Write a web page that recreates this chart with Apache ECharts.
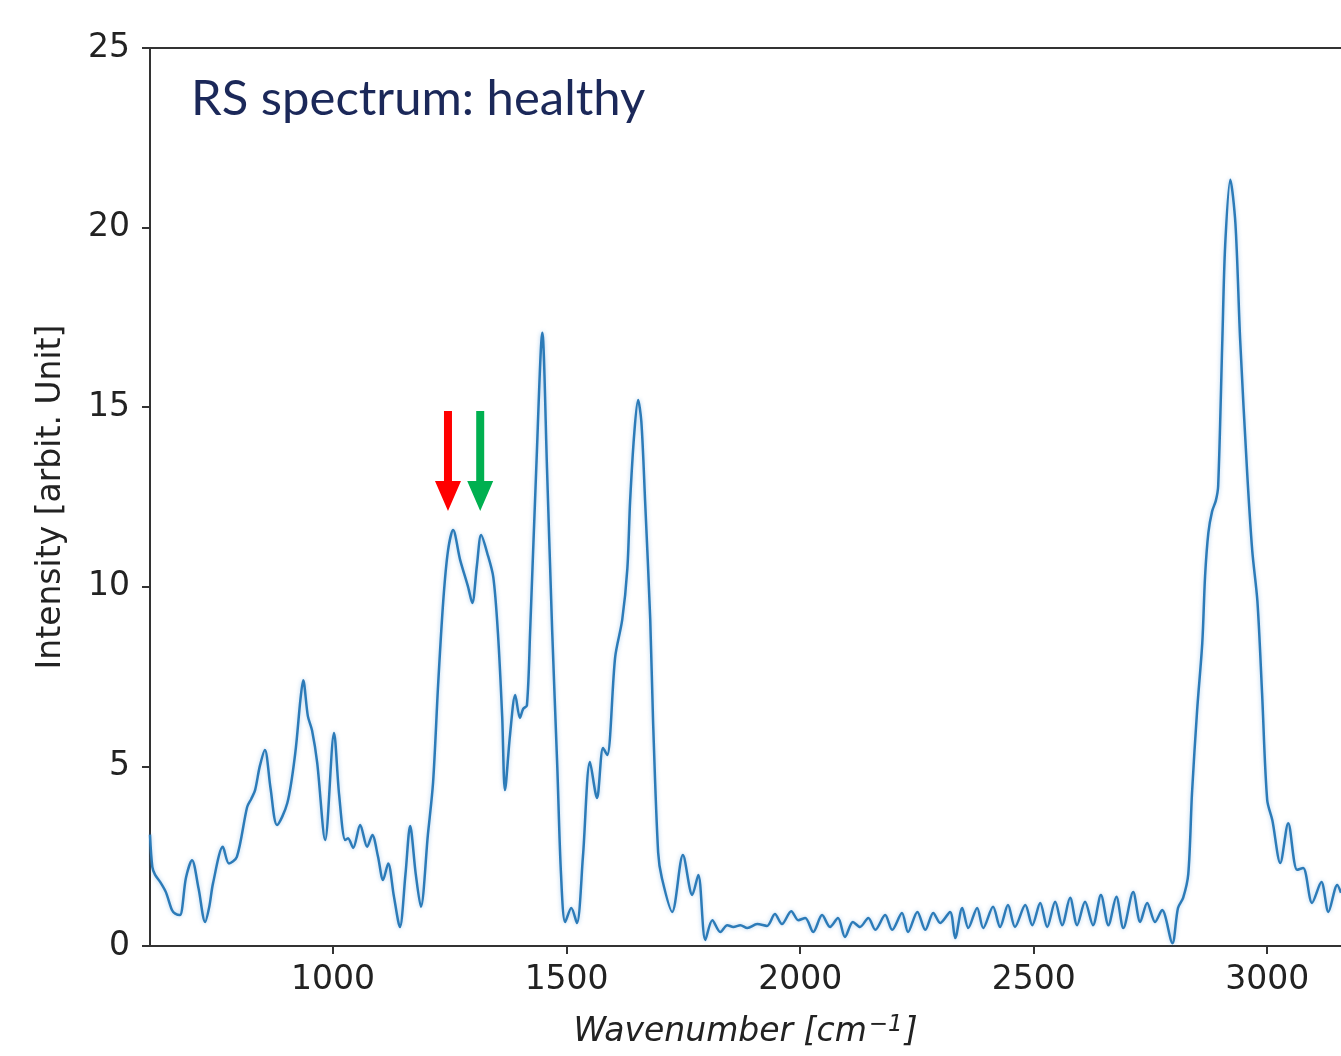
<!DOCTYPE html>
<html>
<head>
<meta charset="utf-8">
<title>RS spectrum: healthy</title>
<script src="https://cdn.jsdelivr.net/npm/echarts@6/dist/echarts.min.js"></script>
<style>
  html, body { margin: 0; padding: 0; background: #fff; }
  #chart { width: 1341px; height: 1056px; }
</style>
</head>
<body>
<div id="chart"></div>
<script>
// wavenumber [cm^-1] and mean intensity
const wavenumber = [
  608, 613, 619, 630, 642, 655, 662, 672, 685, 698, 712, 726, 735, 743, 764, 777, 794,
  816, 825, 833, 843, 854, 866, 880, 902, 919, 930, 936, 946, 955, 966, 983,
  1002, 1013, 1026, 1032, 1043, 1058, 1073, 1084, 1096, 1107, 1118, 1130, 1143, 1155, 1165, 1177, 1188,
  1203, 1214, 1225, 1236, 1246, 1257, 1272, 1289, 1298, 1308, 1317, 1330, 1343, 1353, 1362, 1368,
  1379, 1390, 1400, 1407, 1415, 1422, 1435, 1448, 1458, 1469, 1480, 1488, 1497, 1510, 1522, 1535,
  1550, 1565, 1578, 1587, 1604, 1619, 1630, 1636, 1645, 1653, 1660, 1668, 1679, 1685, 1696, 1704,
  1726, 1749, 1769, 1782, 1797, 1812, 1829, 1844, 1857, 1872, 1887, 1908, 1929, 1946, 1961, 1981,
  1996, 2011, 2028, 2047, 2064, 2081, 2096, 2113, 2128, 2146, 2161, 2182, 2197, 2218, 2231, 2251,
  2268, 2285, 2300, 2321, 2332, 2347, 2360, 2379, 2392, 2413, 2428, 2445, 2460, 2482, 2497, 2514,
  2529, 2546, 2561, 2578, 2593, 2610, 2627, 2644, 2660, 2677, 2692, 2713, 2728, 2743, 2760, 2775,
  2797, 2809, 2820, 2831, 2839, 2850, 2861, 2867, 2874, 2882, 2890, 2895, 2904, 2910, 2921, 2932,
  2942, 2957, 2968, 2979, 2989, 3000, 3011, 3028, 3045, 3064, 3077, 3096, 3116, 3131, 3150, 3158
];
const intensity = [
  3.1, 2.2, 1.98, 1.78, 1.5, 1.0, 0.9, 0.86, 1.9, 2.39, 1.6, 0.67, 1.1, 1.75, 2.76, 2.3, 2.48,
  3.87, 4.1, 4.34, 5.0, 5.46, 4.4, 3.37, 3.98, 5.37, 6.85, 7.4, 6.4, 6.0, 5.1, 2.95,
  5.93, 4.2, 2.95, 3.0, 2.73, 3.37, 2.76, 3.09, 2.5, 1.84, 2.3, 1.4, 0.53, 2.0, 3.34, 2.0, 1.09,
  3.1, 4.54, 7.3, 9.63, 11.0, 11.58, 10.75, 10.0, 9.55, 10.6, 11.44, 10.94, 10.27, 8.7, 6.4, 4.34,
  5.9, 6.99, 6.35, 6.6, 6.7, 8.8, 13.3, 17.07, 13.3, 8.8, 5.0, 2.0, 0.67, 1.06, 0.64, 2.5,
  5.12, 4.12, 5.51, 5.32, 8.05, 9.08, 10.5, 12.4, 14.3, 15.2, 14.6, 12.4, 9.1, 6.3, 2.6, 1.89,
  0.95, 2.53, 1.42, 1.98, 0.17, 0.72, 0.39, 0.58, 0.53, 0.58, 0.5, 0.61, 0.56, 0.89, 0.61, 0.97,
  0.72, 0.78, 0.39, 0.86, 0.53, 0.78, 0.25, 0.67, 0.53, 0.78, 0.45, 0.86, 0.45, 0.92, 0.39, 0.95,
  0.45, 0.92, 0.64, 0.95, 0.22, 1.06, 0.5, 1.06, 0.5, 1.09, 0.53, 1.14, 0.53, 1.14, 0.58, 1.2,
  0.53, 1.23, 0.58, 1.34, 0.58, 1.23, 0.58, 1.42, 0.58, 1.37, 0.5, 1.5, 0.67, 1.2, 0.67, 1.0,
  0.08, 1.06, 1.34, 2.0, 4.26, 6.57, 8.44, 10.3, 11.5, 12.1, 12.4, 12.8, 16.9, 19.5, 21.33, 20.1,
  16.9, 13.2, 11.0, 9.6, 7.04, 4.06, 3.5, 2.31, 3.42, 2.12, 2.17, 1.2, 1.78, 0.95, 1.7, 1.48
];
const xTicks = [1000, 1500, 2000, 2500, 3000];
const xRange = [608, 3158];
const yRange = [0, 25];

// the two arrows marking the amide III bands
const arrowWavenumber = [1246, 1315];
const arrowLevel = 13.5;
const arrowColors = ['#ff0000', '#00b050'];

const arrowPath = 'path://M9,0 L17,0 L17,70 L26,70 L13,100 L0,70 L9,70 Z';
const axisColor = '#333';
const labelColor = '#222';

const chart = echarts.init(document.getElementById('chart'));

chart.setOption({
  animation: false,
  backgroundColor: '#fff',
  title: {
    text: 'RS spectrum: healthy',
    left: 186,
    top: 70,
    textStyle: {
      fontFamily: 'Lato',
      fontSize: 49,
      fontWeight: 'normal',
      color: '#1b2859'
    }
  },
  grid: { left: 150, right: 0, top: 48, bottom: 110 },
  xAxis: [{
    type: 'value',
    min: xRange[0],
    max: xRange[1],
    name: '{t|Wavenumber [cm}{s|−1}{t|]}',
    nameLocation: 'middle',
    nameGap: 68,
    nameTextStyle: {
      rich: {
        t: { fontFamily: 'DejaVu Sans', fontStyle: 'italic', fontSize: 33, color: labelColor },
        s: { fontFamily: 'DejaVu Sans', fontStyle: 'italic', fontSize: 23, color: labelColor, verticalAlign: 'top', padding: [0, 2, 14, 2] }
      }
    },
    splitLine: { show: false },
    axisLine: { lineStyle: { color: axisColor, width: 2 } },
    axisTick: { customValues: xTicks, length: 8, lineStyle: { color: axisColor, width: 2 } },
    axisLabel: {
      customValues: xTicks,
      margin: 18,
      fontFamily: 'DejaVu Sans',
      fontSize: 33,
      color: labelColor,
      formatter: v => String(v)
    }
  }, {
    type: 'value',
    position: 'top',
    min: xRange[0],
    max: xRange[1],
    splitLine: { show: false },
    axisLine: { lineStyle: { color: axisColor, width: 2 } },
    axisTick: { show: false },
    axisLabel: { show: false }
  }],
  yAxis: {
    type: 'value',
    min: yRange[0],
    max: yRange[1],
    interval: 5,
    name: 'Intensity [arbit. Unit]',
    nameLocation: 'middle',
    nameGap: 82,
    nameTextStyle: { fontFamily: 'DejaVu Sans', fontSize: 33, color: labelColor },
    splitLine: { show: false },
    axisLine: { show: true, lineStyle: { color: axisColor, width: 2 } },
    axisTick: { show: true, length: 8, lineStyle: { color: axisColor, width: 2 } },
    axisLabel: {
      margin: 20,
      fontFamily: 'DejaVu Sans',
      fontSize: 33,
      color: labelColor
    }
  },
  series: [{
    type: 'line',
    xAxisIndex: 0,
    data: wavenumber.map((w, i) => [w, intensity[i]]),
    showSymbol: false,
    smooth: 0.3,
    lineStyle: {
      color: '#2c7bb8',
      width: 2.5,
      shadowColor: 'rgba(80,150,215,0.45)',
      shadowBlur: 4
    },
    markPoint: {
      silent: true,
      symbol: arrowPath,
      symbolSize: [26, 100],
      label: { show: false },
      data: arrowWavenumber.map((w, i) => ({
        coord: [w, arrowLevel],
        itemStyle: { color: arrowColors[i] }
      }))
    }
  }]
});
</script>
</body>
</html>
